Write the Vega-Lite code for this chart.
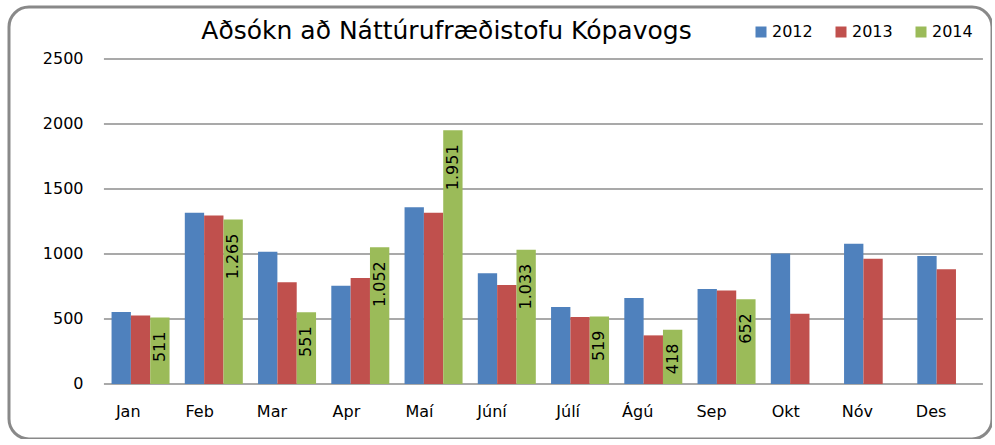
{
  "$schema": "https://vega.github.io/schema/vega-lite/v6.json",
  "width": 983,
  "height": 432,
  "autosize": {"type": "none"},
  "padding": {"left": 9, "top": 7, "right": 0, "bottom": 0},
  "background": "white",
  "title": {
    "text": "Aðsókn að Náttúrufræðistofu Kópavogs",
    "anchor": "middle",
    "frame": "group",
    "offset": 0,
    "baseline": "alphabetic",
    "dx": -54,
    "dy": 57,
    "fontSize": 25,
    "font": "DejaVu Sans",
    "fontWeight": "normal",
    "color": "#000000"
  },
  "config": {
    "view": {"stroke": "#898989", "strokeWidth": 3, "cornerRadius": 20},
    "locale": {"number": {"decimal": ",", "thousands": ".", "grouping": [3], "currency": ["", ""]}},
    "font": "DejaVu Sans"
  },
  "datasets": {
    "visits": [
      {"month": "Jan", "year": "2012", "value": 554},
      {"month": "Jan", "year": "2013", "value": 526},
      {"month": "Jan", "year": "2014", "value": 511},
      {"month": "Feb", "year": "2012", "value": 1318},
      {"month": "Feb", "year": "2013", "value": 1297},
      {"month": "Feb", "year": "2014", "value": 1265},
      {"month": "Mar", "year": "2012", "value": 1018},
      {"month": "Mar", "year": "2013", "value": 782},
      {"month": "Mar", "year": "2014", "value": 551},
      {"month": "Apr", "year": "2012", "value": 756},
      {"month": "Apr", "year": "2013", "value": 815},
      {"month": "Apr", "year": "2014", "value": 1052},
      {"month": "Maí", "year": "2012", "value": 1359},
      {"month": "Maí", "year": "2013", "value": 1318},
      {"month": "Maí", "year": "2014", "value": 1951},
      {"month": "Júní", "year": "2012", "value": 851},
      {"month": "Júní", "year": "2013", "value": 762},
      {"month": "Júní", "year": "2014", "value": 1033},
      {"month": "Júlí", "year": "2012", "value": 592},
      {"month": "Júlí", "year": "2013", "value": 515},
      {"month": "Júlí", "year": "2014", "value": 519},
      {"month": "Ágú", "year": "2012", "value": 662},
      {"month": "Ágú", "year": "2013", "value": 374},
      {"month": "Ágú", "year": "2014", "value": 418},
      {"month": "Sep", "year": "2012", "value": 731},
      {"month": "Sep", "year": "2013", "value": 720},
      {"month": "Sep", "year": "2014", "value": 652},
      {"month": "Okt", "year": "2012", "value": 1003},
      {"month": "Okt", "year": "2013", "value": 541},
      {"month": "Nóv", "year": "2012", "value": 1079},
      {"month": "Nóv", "year": "2013", "value": 964},
      {"month": "Des", "year": "2012", "value": 985},
      {"month": "Des", "year": "2013", "value": 882}
    ],
    "grid": [
      {"v": 0}, {"v": 500}, {"v": 1000}, {"v": 1500}, {"v": 2000}, {"v": 2500}
    ]
  },
  "layer": [
    {
      "data": {"name": "grid"},
      "mark": {"type": "rule", "color": "#8c8c8c", "strokeWidth": 1.6},
      "encoding": {
        "x": {"datum": "Jan", "type": "nominal", "bandPosition": -0.1314},
        "x2": {"datum": "Des", "bandPosition": 1.1314},
        "y": {"field": "v", "type": "quantitative"}
      }
    },
    {
      "data": {"name": "visits"},
      "mark": {"type": "bar"},
      "encoding": {
        "x": {
          "field": "month",
          "type": "nominal",
          "scale": {
            "domain": ["Jan", "Feb", "Mar", "Apr", "Maí", "Júní", "Júlí", "Ágú", "Sep", "Okt", "Nóv", "Des"],
            "paddingInner": 0.2082,
            "paddingOuter": 0.814,
            "align": 0.86
          },
          "axis": {
            "orient": "bottom",
            "title": null,
            "offset": -55,
            "ticks": false,
            "domain": false,
            "grid": false,
            "labelPadding": 27,
            "labelFontSize": 16,
            "labelColor": "#000000",
            "labelAngle": 0
          }
        },
        "xOffset": {"field": "year", "type": "nominal"},
        "y": {
          "field": "value",
          "type": "quantitative",
          "scale": {"domain": [-423.1, 2900], "nice": false, "zero": false},
          "axis": {
            "orient": "left",
            "title": null,
            "offset": -78,
            "values": [0, 500, 1000, 1500, 2000, 2500],
            "format": "d",
            "ticks": false,
            "domain": false,
            "grid": false,
            "labelPadding": 4,
            "labelFontSize": 16,
            "labelColor": "#000000"
          }
        },
        "color": {
          "field": "year",
          "type": "nominal",
          "scale": {"domain": ["2012", "2013", "2014"], "range": ["#4F81BD", "#C0504D", "#9BBB59"]},
          "legend": {
            "orient": "none",
            "legendX": 744,
            "legendY": 17,
            "direction": "horizontal",
            "title": null,
            "symbolType": "square",
            "symbolSize": 121,
            "symbolStrokeWidth": 0,
            "symbolOpacity": 1,
            "labelFontSize": 16,
            "labelOffset": 3,
            "columnPadding": 20,
            "labelColor": "#000000"
          }
        }
      }
    },
    {
      "data": {"name": "visits"},
      "transform": [{"filter": "datum.year === '2014'"}],
      "mark": {"type": "text", "angle": 270, "align": "right", "baseline": "middle", "dx": -14, "fontSize": 16, "color": "#000000"},
      "encoding": {
        "x": {"field": "month", "type": "nominal"},
        "xOffset": {"field": "year", "type": "nominal"},
        "y": {"field": "value", "type": "quantitative"},
        "text": {"field": "value", "type": "quantitative", "format": ",d"}
      }
    }
  ]
}
